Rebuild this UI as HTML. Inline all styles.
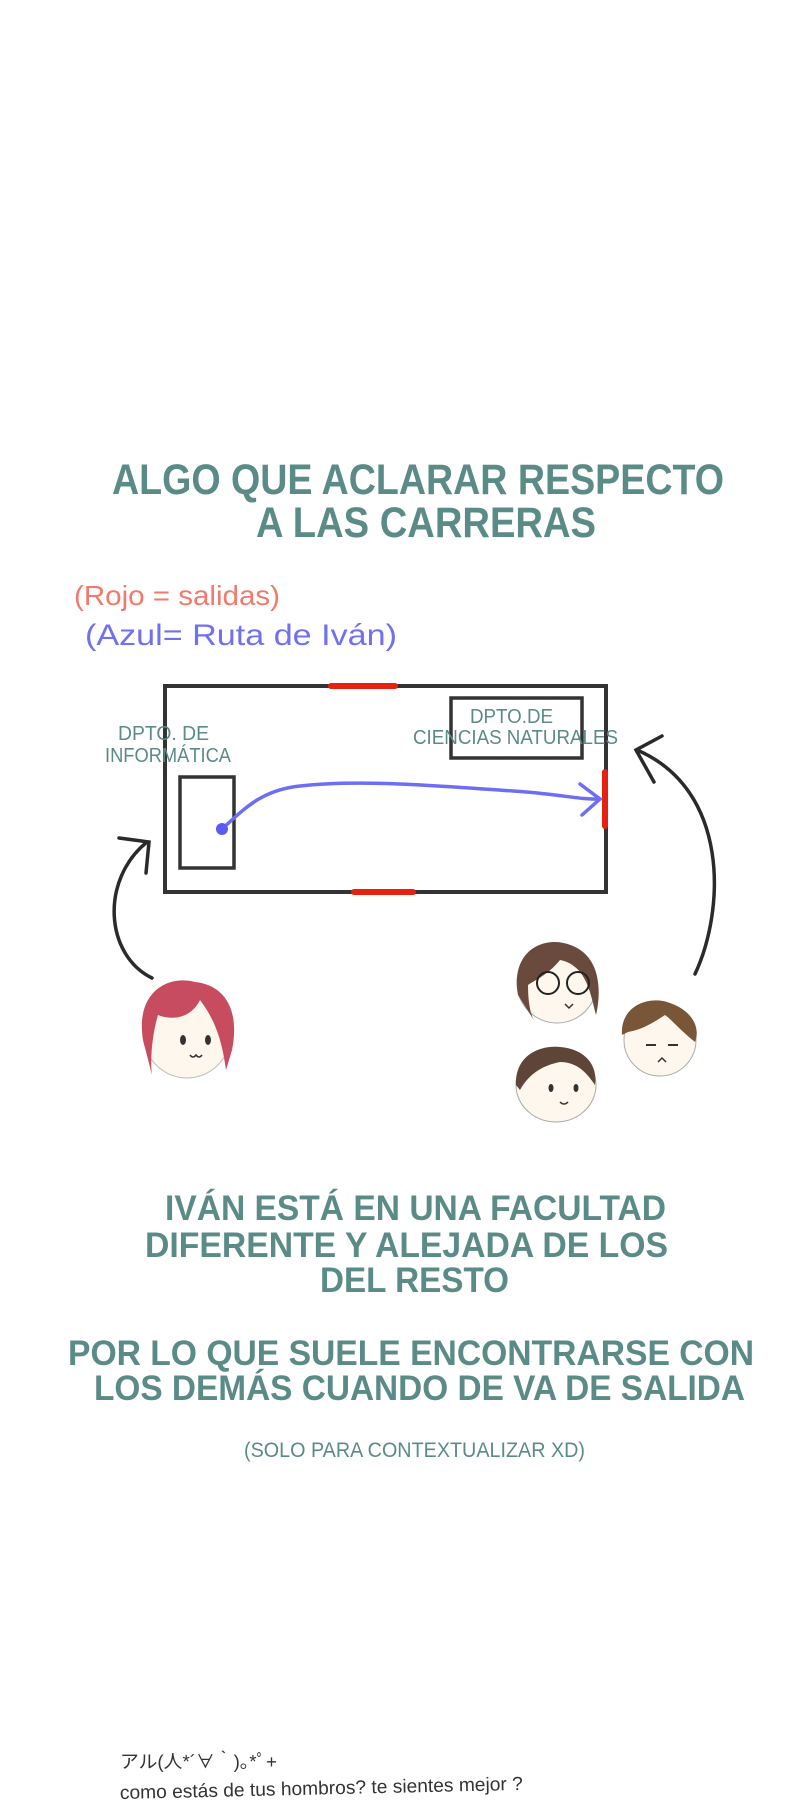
<!DOCTYPE html>
<html><head><meta charset="utf-8"><style>
html,body{margin:0;padding:0;background:#fff;}
svg{display:block;}
.t{font-family:"Liberation Sans Narrow","Liberation Sans",sans-serif;font-weight:bold;fill:#5b8b87;}
</style></head><body>
<svg width="800" height="1820" viewBox="0 0 800 1820" xmlns="http://www.w3.org/2000/svg">
<rect width="800" height="1820" fill="#fff"/>
<text class="t" x="112" y="494" font-size="43" textLength="612" lengthAdjust="spacingAndGlyphs">ALGO QUE ACLARAR RESPECTO</text>
<text class="t" x="256" y="537" font-size="43" textLength="340" lengthAdjust="spacingAndGlyphs">A LAS CARRERAS</text>

<text x="74" y="605" font-family="Liberation Sans,sans-serif" font-size="28" fill="#f27a6c" textLength="206" lengthAdjust="spacingAndGlyphs">(Rojo = salidas)</text>
<text x="85" y="645" font-family="Liberation Sans,sans-serif" font-size="30" fill="#7070f0" textLength="312" lengthAdjust="spacingAndGlyphs">(Azul=  Ruta de Iván)</text>

<rect x="165" y="686" width="441" height="206" fill="none" stroke="#333" stroke-width="4"/>
<rect x="180" y="777" width="54" height="91" fill="none" stroke="#333" stroke-width="3.5"/>
<rect x="451" y="698" width="131" height="60" fill="none" stroke="#333" stroke-width="3.5"/>
<line x1="331" y1="686" x2="395" y2="686" stroke="#e8200f" stroke-width="6" stroke-linecap="round"/>
<line x1="354" y1="892" x2="413" y2="892" stroke="#e8200f" stroke-width="6" stroke-linecap="round"/>
<line x1="605" y1="772" x2="605" y2="826" stroke="#e8200f" stroke-width="6" stroke-linecap="round"/>

<text class="t" x="118" y="740" font-size="20" textLength="91" lengthAdjust="spacingAndGlyphs" style="font-weight:normal">DPTO. DE</text>
<text class="t" x="105" y="762" font-size="20" textLength="126" lengthAdjust="spacingAndGlyphs" style="font-weight:normal">INFORMÁTICA</text>
<text class="t" x="470" y="723" font-size="20" textLength="83" lengthAdjust="spacingAndGlyphs" style="font-weight:normal">DPTO.DE</text>
<text class="t" x="413" y="744" font-size="20" textLength="205" lengthAdjust="spacingAndGlyphs" style="font-weight:normal">CIENCIAS NATURALES</text>

<path d="M222,829 C245,808 262,790 300,786 C360,779 440,786 513,791 C560,794 580,800 600,799" fill="none" stroke="#6e6ef5" stroke-width="3.5" stroke-linecap="round"/>
<path d="M580,784 L600,799 L582,815" fill="none" stroke="#6e6ef5" stroke-width="3.5" stroke-linecap="round"/>
<circle cx="222" cy="829" r="6" fill="#5a5af5"/>

<path d="M152,978 C105,955 100,880 147,842" fill="none" stroke="#2a2a2a" stroke-width="3.5" stroke-linecap="round"/>
<path d="M119,838 L149,842 L146,873" fill="none" stroke="#2a2a2a" stroke-width="3.5" stroke-linecap="round"/>
<path d="M695,974 C725,910 730,790 637,750" fill="none" stroke="#2a2a2a" stroke-width="3.5" stroke-linecap="round"/>
<path d="M662,736 L636,750 L654,782" fill="none" stroke="#2a2a2a" stroke-width="3.5" stroke-linecap="round"/>

<!-- red hair face -->
<g>
<ellipse cx="187" cy="1033" rx="44" ry="45" fill="#fdf7ee" stroke="#bbb" stroke-width="1"/>
<path d="M143,1040 C135,990 170,975 195,982 C225,985 240,1010 232,1050 L226,1070 C222,1040 215,1020 200,1000 C190,1020 170,1020 158,1015 C152,1035 150,1060 152,1075 Z" fill="#c84c60"/>
<ellipse cx="183" cy="1040" rx="3" ry="5" fill="#333"/><ellipse cx="208" cy="1040" rx="3" ry="5" fill="#333"/>
<path d="M190,1055 q3,4 6,0 q3,4 6,0" fill="none" stroke="#333" stroke-width="1.5"/>
</g>
<!-- glasses face -->
<g>
<ellipse cx="557" cy="983" rx="40" ry="40" fill="#fdf7ee" stroke="#aaa" stroke-width="1"/>
<path d="M518,995 C510,950 545,935 570,945 C600,955 602,990 596,1015 C590,990 585,965 560,960 C548,975 535,980 528,985 C528,1000 530,1015 535,1022 Z" fill="#6b4a3e"/>
<circle cx="548" cy="983" r="11" fill="none" stroke="#222" stroke-width="2"/><circle cx="578" cy="983" r="11" fill="none" stroke="#222" stroke-width="2"/>
<path d="M565,1004 l4,4 l4,-4" fill="none" stroke="#333" stroke-width="1.5"/>
</g>
<!-- right brown face -->
<g>
<ellipse cx="660" cy="1040" rx="36" ry="36" fill="#fdf7ee" stroke="#aaa" stroke-width="1"/>
<path d="M622,1035 C620,1005 650,995 670,1003 C695,1012 700,1030 695,1042 C680,1030 672,1020 665,1015 C650,1025 640,1030 628,1032 Z" fill="#7a5638"/>
<line x1="646" y1="1045" x2="656" y2="1045" stroke="#333" stroke-width="2"/><line x1="668" y1="1045" x2="678" y2="1045" stroke="#333" stroke-width="2"/>
<path d="M658,1062 l4,-4 l4,4" fill="none" stroke="#333" stroke-width="1.5"/>
</g>
<!-- bottom face -->
<g>
<ellipse cx="556" cy="1085" rx="40" ry="37" fill="#fdf7ee" stroke="#aaa" stroke-width="1"/>
<path d="M516,1085 C515,1055 540,1045 560,1047 C585,1049 598,1065 595,1085 C585,1070 575,1062 560,1062 C545,1065 530,1072 520,1090 Z" fill="#5e4538"/>
<ellipse cx="551" cy="1088" rx="2.5" ry="4" fill="#333"/><ellipse cx="576" cy="1088" rx="2.5" ry="4" fill="#333"/>
<path d="M560,1102 q4,4 8,0" fill="none" stroke="#333" stroke-width="1.5"/>
</g>

<text class="t" x="165" y="1220" font-size="35" textLength="501" lengthAdjust="spacingAndGlyphs">IVÁN ESTÁ EN UNA FACULTAD</text>
<text class="t" x="145" y="1257" font-size="35" textLength="523" lengthAdjust="spacingAndGlyphs">DIFERENTE Y ALEJADA DE LOS</text>
<text class="t" x="320" y="1292" font-size="35" textLength="189" lengthAdjust="spacingAndGlyphs">DEL RESTO</text>
<text class="t" x="68" y="1365" font-size="35" textLength="686" lengthAdjust="spacingAndGlyphs">POR LO QUE SUELE ENCONTRARSE CON</text>
<text class="t" x="94" y="1400" font-size="35" textLength="651" lengthAdjust="spacingAndGlyphs">LOS DEMÁS CUANDO DE VA DE SALIDA</text>
<text class="t" x="244" y="1457" font-size="21" textLength="341" lengthAdjust="spacingAndGlyphs" style="font-weight:normal">(SOLO PARA CONTEXTUALIZAR XD)</text>

<text x="120" y="1768" font-family="Liberation Sans,'Noto Sans CJK JP',sans-serif" font-size="18" fill="#333" textLength="157" lengthAdjust="spacingAndGlyphs">アル(人*´∀｀)｡*ﾟ+</text>
<text x="120" y="1799" font-family="Liberation Sans,sans-serif" font-size="19" fill="#333" textLength="403" lengthAdjust="spacingAndGlyphs" transform="rotate(-1.3 120 1799)">como estás de tus hombros? te sientes mejor ?</text>
</svg>
</body></html>
